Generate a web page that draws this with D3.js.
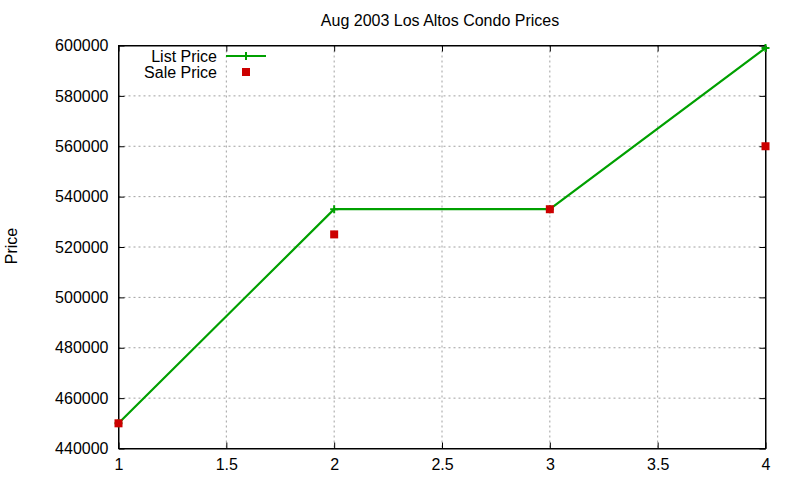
<!DOCTYPE html>
<html>
<head>
<meta charset="utf-8">
<script src="https://cdn.jsdelivr.net/npm/d3@7"></script>
<style>
  body { margin: 0; background: #fff; }
  text { font-family: "Liberation Sans", Arial, sans-serif; }
</style>
</head>
<body>
<div id="chart"></div>
<script>
// data
var units = [1, 2, 3, 4]
var listPrice = [450000, 535000, 535000, 599000]
var salePrice = [450000, 525000, 535000, 560000]
var xTicks = [1, 1.5, 2, 2.5, 3, 3.5, 4]
var yTicks = [440000, 460000, 480000, 500000, 520000, 540000, 560000, 580000, 600000]
var seriesNames = ["List Price", "Sale Price"]

var W = 800, H = 480
// plot box (not "top": that name is taken by window.top)
var mLeft = 118.5, mRight = 765.5, mTop = 45.5, mBottom = 448.5
var green = "#00a000", red = "#cc0000"
var fontSize = 16

var svg = d3.select("#chart").append("svg")
    .attr("width", W)
    .attr("height", H)

var xs = d3.scaleLinear().domain([1, 4]).range([mLeft, mRight])
var ys = d3.scaleLinear().domain([440000, 600000]).range([mBottom, mTop])

// grid
var grid = svg.append("g")
grid.selectAll(".gx")
    .data(xTicks.slice(1, -1))
    .enter()
    .append("line")
    .attr("x1", d => xs(d)).attr("x2", d => xs(d))
    .attr("y1", mTop).attr("y2", mBottom)
    .attr("stroke", "#a0a0a0")
    .attr("stroke-dasharray", "2,3")
grid.selectAll(".gy")
    .data(yTicks.slice(1, -1))
    .enter()
    .append("line")
    .attr("x1", mLeft).attr("x2", mRight)
    .attr("y1", d => ys(d)).attr("y2", d => ys(d))
    .attr("stroke", "#a0a0a0")
    .attr("stroke-dasharray", "2,3")

// axes, ticks on all four sides pointing inward
svg.append("g")
    .attr("transform", "translate(0," + mBottom + ")")
    .call(d3.axisBottom(xs).tickValues(xTicks).tickSizeInner(-6).tickSizeOuter(0).tickPadding(10).tickFormat(d3.format("")))
svg.append("g")
    .attr("transform", "translate(0," + mTop + ")")
    .call(d3.axisTop(xs).tickValues(xTicks).tickSizeInner(-6).tickSizeOuter(0).tickFormat(""))
svg.append("g")
    .attr("transform", "translate(" + mLeft + ",0)")
    .call(d3.axisLeft(ys).tickValues(yTicks).tickSizeInner(-6).tickSizeOuter(0).tickPadding(10).tickFormat(d3.format("d")))
svg.append("g")
    .attr("transform", "translate(" + mRight + ",0)")
    .call(d3.axisRight(ys).tickValues(yTicks).tickSizeInner(-6).tickSizeOuter(0).tickFormat(""))

svg.selectAll(".domain").attr("stroke", "#000")
svg.selectAll(".tick line").attr("stroke", "#000")
svg.selectAll(".tick text")
    .attr("font-size", fontSize)
    .attr("font-family", "Liberation Sans, Arial, sans-serif")
    .attr("fill", "#000")

// frame
svg.append("rect")
    .attr("x", mLeft).attr("y", mTop)
    .attr("width", mRight - mLeft).attr("height", mBottom - mTop)
    .attr("fill", "none")
    .attr("stroke", "#000")

// title and y label
svg.append("text")
    .attr("x", 440).attr("y", 26)
    .attr("text-anchor", "middle")
    .attr("font-size", fontSize)
    .text("Aug 2003 Los Altos Condo Prices")
svg.append("text")
    .attr("transform", "translate(17,246) rotate(-90)")
    .attr("text-anchor", "middle")
    .attr("font-size", fontSize)
    .text("Price")

// list price line
var line = d3.line().x((d, i) => xs(units[i])).y(d => ys(d))
svg.append("path")
    .datum(listPrice)
    .attr("d", line)
    .attr("fill", "none")
    .attr("stroke", green)
    .attr("stroke-width", 2.2)

svg.selectAll(".plus")
    .data(listPrice)
    .enter()
    .append("path")
    .attr("d", "M-4,0H4M0,-4V4")
    .attr("transform", (d, i) => "translate(" + xs(units[i]) + "," + ys(d) + ")")
    .attr("stroke", green)
    .attr("stroke-width", 2)

// sale price squares
svg.selectAll(".sq")
    .data(salePrice)
    .enter()
    .append("rect")
    .attr("x", (d, i) => xs(units[i]) - 4)
    .attr("y", d => ys(d) - 4)
    .attr("width", 8).attr("height", 8)
    .attr("fill", red)

// legend
var leg = svg.append("g")
leg.selectAll("text")
    .data(seriesNames)
    .enter()
    .append("text")
    .attr("x", 217)
    .attr("y", (d, i) => 56 + i * 16)
    .attr("dy", "0.35em")
    .attr("text-anchor", "end")
    .attr("font-size", fontSize)
    .text(d => d)
leg.append("line")
    .attr("x1", 226).attr("x2", 266)
    .attr("y1", 56).attr("y2", 56)
    .attr("stroke", green)
    .attr("stroke-width", 2.2)
leg.append("path")
    .attr("d", "M-4,0H4M0,-4V4")
    .attr("transform", "translate(246,56)")
    .attr("stroke", green)
    .attr("stroke-width", 2)
leg.append("rect")
    .attr("x", 242).attr("y", 68)
    .attr("width", 8).attr("height", 8)
    .attr("fill", red)
</script>
</body>
</html>
